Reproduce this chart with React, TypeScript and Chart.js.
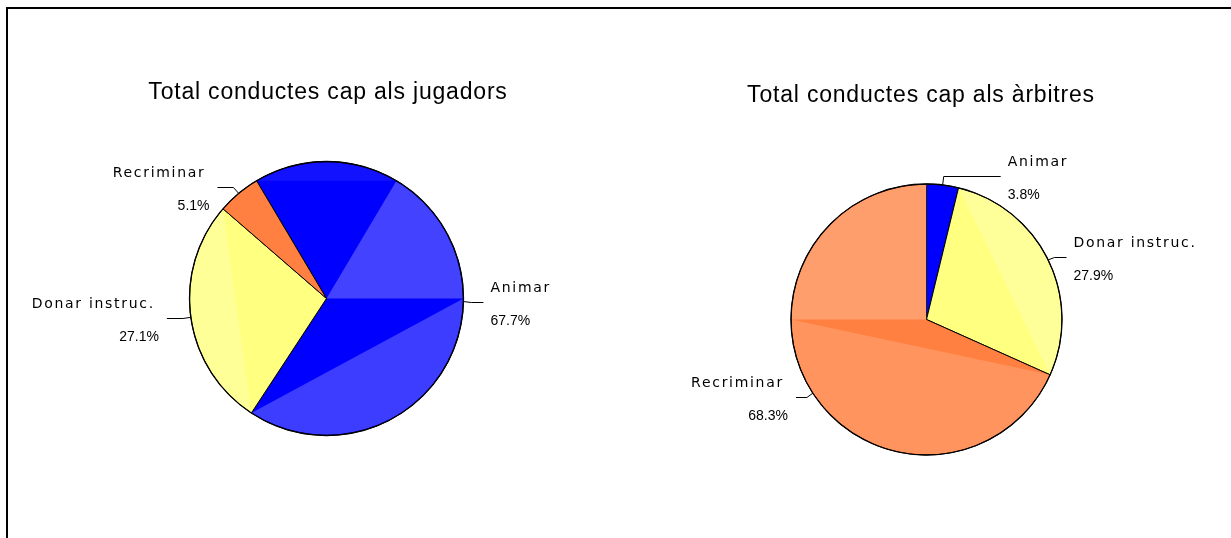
import React, { useEffect, useRef } from 'react';
import { Chart, registerables } from 'chart.js';

Chart.register(...registerables);

// ---- data ----
const categories = ['Animar', 'Donar instruc.', 'Recriminar'];
const jugadorsValues = [67.7, 27.1, 5.1];
const arbitresValues = [3.8, 27.9, 68.3];
const sliceColors = ['#0000FF', '#FFFF80', '#FF8040'];
const jugadorsTitle = 'Total conductes cap als jugadors';
const arbitresTitle = 'Total conductes cap als àrbitres';

// degrees clockwise from 12 o'clock -> canvas radians
const toCanvasAngle = (d: number) => ((d - 90) * Math.PI) / 180;

const pieDecor = {
  id: 'pieDecor',
  afterDatasetsDraw(chart: any, _args: any, opts: any) {
    const ctx: CanvasRenderingContext2D = chart.ctx;
    const arcs: any[] = chart.getDatasetMeta(0).data;
    if (!arcs.length) return;
    const cx = arcs[0].x;
    const cy = arcs[0].y;
    const r = arcs[0].outerRadius;

    // shading (imitates the light moiré areas of the original rendering)
    ctx.save();
    ctx.beginPath();
    ctx.arc(cx, cy, r - 0.8, 0, Math.PI * 2);
    ctx.clip();
    (opts.shading || []).forEach((s: any) => {
      ctx.beginPath();
      if (s.kind === 'fan') {
        ctx.moveTo(cx, cy);
        ctx.arc(cx, cy, r, toCanvasAngle(s.from), toCanvasAngle(s.to));
        ctx.closePath();
      } else {
        ctx.arc(cx, cy, r, toCanvasAngle(s.from), toCanvasAngle(s.to));
        ctx.closePath();
      }
      ctx.fillStyle = s.color;
      ctx.fill();
    });
    ctx.restore();

    // outer outline slightly heavier, like the reference
    ctx.save();
    ctx.beginPath();
    ctx.arc(cx, cy, r, 0, Math.PI * 2);
    ctx.strokeStyle = '#000';
    ctx.lineWidth = 1.3;
    ctx.stroke();
    ctx.restore();

    // leader lines and labels
    const labels = chart.data.labels;
    const values = chart.data.datasets[0].data;
    ctx.save();
    ctx.strokeStyle = '#000';
    ctx.lineWidth = 1;
    ctx.fillStyle = '#000';
    arcs.forEach((arc: any, i: number) => {
      const mid = (arc.startAngle + arc.endAngle) / 2;
      const L = opts.leaders[i];
      const ex = cx + Math.cos(mid) * r;
      const ey = cy + Math.sin(mid) * r;
      const bx = ex + Math.cos(mid) * L.elbow;
      const by = Math.round(ey + Math.sin(mid) * L.elbow) + 0.5;
      const right = Math.cos(mid) >= 0;
      const tx = bx + (right ? L.len : -L.len);
      ctx.beginPath();
      ctx.moveTo(ex, ey);
      ctx.lineTo(bx, by);
      ctx.lineTo(tx, by);
      ctx.stroke();

      ctx.textBaseline = 'alphabetic';
      ctx.textAlign = right ? 'left' : 'right';
      ctx.font = '14px "DejaVu Sans"';
      (ctx as any).letterSpacing = '1.7px';
      ctx.fillText(String(labels[i]), right ? tx + 7 : tx - 12, by - 11);
      ctx.font = '14px "Liberation Sans", Arial';
      (ctx as any).letterSpacing = '0px';
      ctx.fillText(Number(values[i]).toFixed(1) + '%', right ? tx + 7 : tx - 8, by + 22);
    });
    ctx.restore();
  },
  afterDraw(chart: any, _args: any, opts: any) {
    const ctx: CanvasRenderingContext2D = chart.ctx;
    ctx.save();
    ctx.fillStyle = '#000';
    ctx.font = '23px "Liberation Sans", Arial';
    (ctx as any).letterSpacing = '0.8px';
    ctx.textAlign = 'center';
    ctx.textBaseline = 'alphabetic';
    ctx.fillText(opts.title.text, opts.title.x, opts.title.y);
    ctx.restore();
  },
};

type PieProps = {
  values: number[];
  title: string;
  width: number;
  height: number;
  center: [number, number];
  radius: number;
  rotation: number;
  titlePos: [number, number];
  leaders: { elbow: number; len: number }[];
  shading: { kind: string; from: number; to: number; color: string }[];
};

function PieChart(p: PieProps) {
  const ref = useRef<HTMLCanvasElement>(null);
  useEffect(() => {
    if (!ref.current) return;
    const box = p.radius + 3;
    const chart = new Chart(ref.current, {
      type: 'pie',
      data: {
        labels: categories,
        datasets: [
          {
            data: p.values,
            backgroundColor: sliceColors,
            borderColor: '#000000',
            borderWidth: 1,
          },
        ],
      },
      options: {
        responsive: false,
        animation: false,
        events: [],
        rotation: p.rotation,
        radius: p.radius,
        layout: {
          padding: {
            left: p.center[0] - box,
            right: p.width - p.center[0] - box,
            top: p.center[1] - box,
            bottom: p.height - p.center[1] - box,
          },
        },
        plugins: {
          legend: { display: false },
          tooltip: { enabled: false },
          title: { display: false },
          pieDecor: {
            title: { text: p.title, x: p.titlePos[0], y: p.titlePos[1] },
            leaders: p.leaders,
            shading: p.shading,
          },
        } as any,
      },
      plugins: [pieDecor],
    } as any);
    return () => chart.destroy();
  }, []);
  return (
    <canvas
      ref={ref}
      width={p.width}
      height={p.height}
      style={{ display: 'block', width: p.width, height: p.height }}
    />
  );
}

export default function App() {
  return (
    <div
      style={{
        position: 'absolute',
        left: 6,
        top: 7,
        width: 1225,
        height: 531,
        boxSizing: 'border-box',
        borderLeft: '2px solid #000',
        borderTop: '2px solid #000',
        background: '#fff',
        overflow: 'hidden',
      }}
    >
      <div style={{ position: 'absolute', left: 0, top: 0 }}>
        <PieChart
          values={jugadorsValues}
          title={jugadorsTitle}
          width={612}
          height={529}
          center={[318.5, 289.5]}
          radius={137}
          rotation={-30.7}
          titlePos={[320, 90.3]}
          leaders={[
            { elbow: 8, len: 12 },
            { elbow: 8, len: 16 },
            { elbow: 8, len: 16 },
          ]}
          shading={[
            { kind: 'segment', from: -30.7, to: 30.7, color: 'rgba(255,255,255,0.07)' },
            { kind: 'fan', from: 30.7, to: 90, color: 'rgba(255,255,255,0.26)' },
            { kind: 'segment', from: 90, to: 213.3, color: 'rgba(255,255,255,0.24)' },
            { kind: 'segment', from: 213.3, to: 310.9, color: 'rgba(255,255,255,0.18)' },
          ]}
        />
      </div>
      <div style={{ position: 'absolute', left: 612, top: 0 }}>
        <PieChart
          values={arbitresValues}
          title={arbitresTitle}
          width={611}
          height={529}
          center={[306.5, 310.5]}
          radius={135.5}
          rotation={0}
          titlePos={[301, 92.7]}
          leaders={[
            { elbow: 9, len: 57 },
            { elbow: 7, len: 12 },
            { elbow: 7, len: 11 },
          ]}
          shading={[
            { kind: 'segment', from: 13.7, to: 114.1, color: 'rgba(255,255,255,0.2)' },
            { kind: 'segment', from: 114.1, to: 270, color: 'rgba(255,255,255,0.16)' },
            { kind: 'fan', from: 270, to: 360, color: 'rgba(255,255,255,0.24)' },
          ]}
        />
      </div>
    </div>
  );
}
